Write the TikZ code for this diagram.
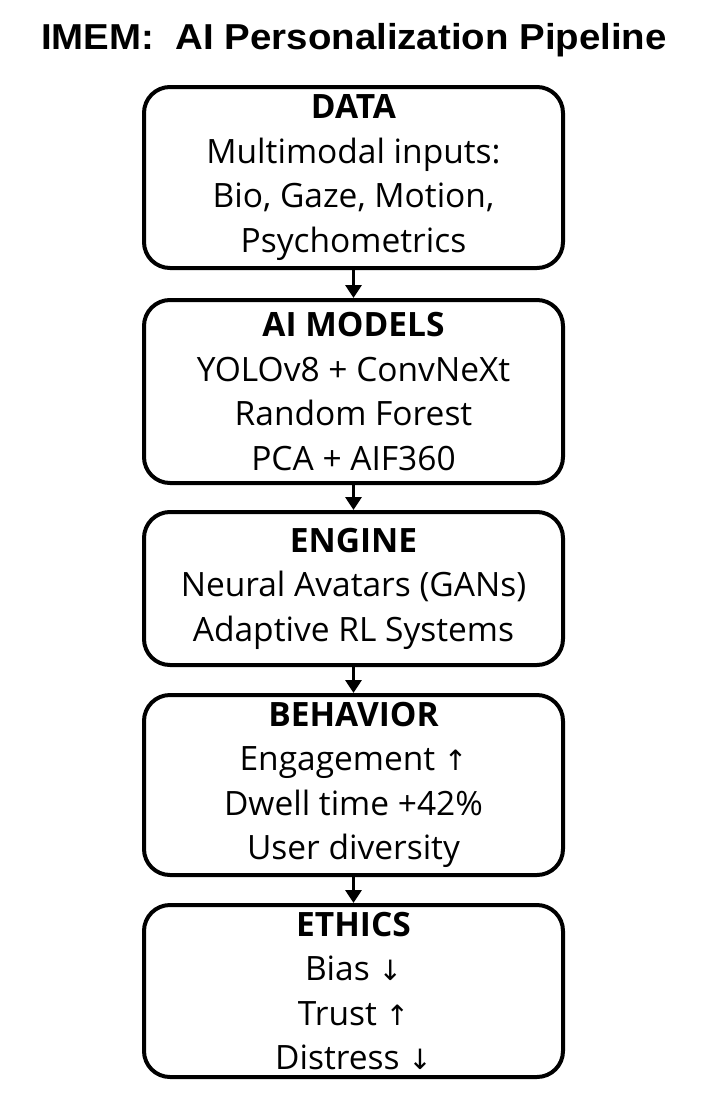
\documentclass[tikz,border=0pt]{standalone}
\usepackage{fontspec}
\usepackage{graphicx}
\setmainfont{Open Sans}
\newfontfamily\arrowfont{DejaVu Sans}
\newfontfamily\titlefont{Liberation Sans}
\usetikzlibrary{arrows.meta}
\newcommand{\upar}{{\arrowfont\fontsize{28}{28}\selectfont ↑}}
\newcommand{\dnar}{{\arrowfont\fontsize{28}{28}\selectfont ↓}}
\tikzset{
  stagebox/.style={draw=black, line width=4pt, rounded corners=26pt, fill=white,
    minimum width=419pt, inner sep=0pt},
  stagetext/.style={align=center, inner sep=0pt, yshift=0pt,
    font=\fontsize{33.5}{44.5}\selectfont},
  flowarrow/.style={line width=3.2pt, -{Triangle[length=13pt,width=16pt]}}
}
\begin{document}
\begin{tikzpicture}[x=1pt,y=-1pt]
\useasboundingbox (0,0) rectangle (708,1103);
\node (title) at (354,40) {\scalebox{1.13}[1.06]{\titlefont\bfseries\fontsize{34}{34}\selectfont IMEM:\ \ AI Personalization Pipeline}};
\node[stagebox, minimum height=181pt] (data) at (353.5,177.5) {};
\node[stagetext] (datatext) at (data.center)
  {\textbf{DATA}\\Multimodal inputs:\\Bio, Gaze, Motion,\\Psychometrics};
\node[stagebox, minimum height=183pt] (models) at (353.5,391.5) {};
\node[stagetext] (modelstext) at (models.center)
  {\textbf{AI MODELS}\\YOLOv8 + ConvNeXt\\Random Forest\\PCA + AIF360};
\node[stagebox, minimum height=153pt] (engine) at (353.5,588.5) {};
\node[stagetext] (enginetext) at (engine.center)
  {\textbf{ENGINE}\\Neural Avatars (GANs)\\Adaptive RL Systems};
\node[stagebox, minimum height=180pt] (behavior) at (353.5,785) {};
\node[stagetext] (behaviortext) at (behavior.center)
  {\textbf{BEHAVIOR}\\Engagement \upar\\Dwell time +42\%\\User diversity};
\node[stagebox, minimum height=172pt] (ethics) at (353.5,991) {};
\node[stagetext] (ethicstext) at (ethics.center)
  {\textbf{ETHICS}\\Bias \dnar\\Trust \upar\\Distress \dnar};
\draw[flowarrow] (data.south) -- (models.north);
\draw[flowarrow] (models.south) -- (engine.north);
\draw[flowarrow] (engine.south) -- (behavior.north);
\draw[flowarrow] (behavior.south) -- (ethics.north);
\end{tikzpicture}
\end{document}
